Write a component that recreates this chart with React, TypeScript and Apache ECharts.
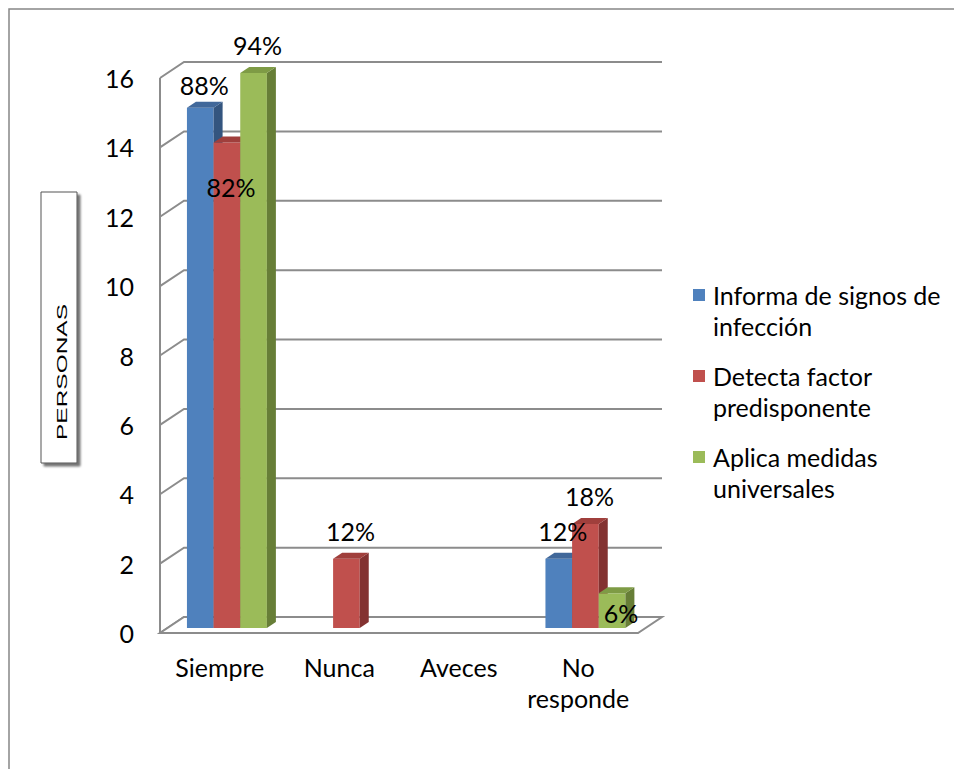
import React, { useEffect, useRef } from "react";
import * as echarts from "echarts";

const categories = ["Siempre", "Nunca", "Aveces", "No responde"];
const seriesNames = [
  "Informa de signos de infección",
  "Detecta factor predisponente",
  "Aplica medidas universales",
];
const seriesInforma = [15, 0, 0, 2];
const seriesDetecta = [14, 2, 0, 3];
const seriesAplica = [16, 0, 0, 1];
const labelsInforma = ["88%", "", "", "12%"];
const labelsDetecta = ["82%", "12%", "", "18%"];
const labelsAplica = ["94%", "", "", "6%"];
const yMin = 0;
const yMax = 16;
const yInterval = 2;
const axisTitle = "PERSONAS";

const FONT = "Lato, 'Liberation Sans Narrow', sans-serif";
const FS = 25;
const GRID = "#8c8c8c";
const COLORS = [
  { front: "#4f81bd", side: "#34557f", top: "#41689a" },
  { front: "#c0504d", side: "#833231", top: "#a03f3c" },
  { front: "#9bbb59", side: "#677e37", top: "#7e9b45" },
];
// wall depth (front plane -> back plane)
const WDX = 24;
const WDY = 16;
// bar depth and inset
const BDX = 9;
const BDY = 6;
const INSET_Y = 5;

const labelOffsets: Record<string, [number, number]> = {
  "0-0": [4, -23],
  "1-0": [4, 45],
  "2-3": [9, 20],
};

function barGeom(api: any, c: number, v: number, si: number) {
  const catW = api.size([1, 0])[0];
  const p0 = api.coord([c, 0]);
  const p1 = api.coord([c, v]);
  const bw = catW * 0.223;
  const cx = p0[0] + catW * 0.06;
  const L = cx - 1.5 * bw + si * bw;
  const R = L + bw;
  const B = p0[1] - INSET_Y;
  const T = p1[1] - INSET_Y;
  return { L, R, B, T };
}

export default function App() {
  const ref = useRef<HTMLDivElement>(null);
  useEffect(() => {
    document.body.style.margin = "0";
    if (!ref.current) return;
    const chart = echarts.init(ref.current, null, { renderer: "svg" });
    const seriesValues = [seriesInforma, seriesDetecta, seriesAplica];
    const seriesLabels = [labelsInforma, labelsDetecta, labelsAplica];

    const ticks: number[] = [];
    for (let v = yMin; v <= yMax; v += yInterval) ticks.push(v);

    const wallSeries = {
      type: "custom",
      silent: true,
      data: [[0, 0]],
      z: 1,
      renderItem: (params: any, api: any) => {
        const cs = params.coordSys;
        const x0 = cs.x;
        const x1 = cs.x + cs.width;
        const children: any[] = [];
        const ls = { stroke: GRID, lineWidth: 2 };
        ticks.forEach((v) => {
          const y = api.coord([0, v])[1];
          children.push({
            type: "polyline",
            shape: { points: [[x0, y], [x0 + WDX, y - WDY], [x1 + WDX, y - WDY]] },
            style: { ...ls, fill: null },
          });
        });
        const yb = api.coord([0, yMin])[1];
        const yt = api.coord([0, yMax])[1];
        children.push({
          type: "line",
          shape: { x1: x0, y1: yt, x2: x0, y2: yb },
          style: ls,
        });
        children.push({
          type: "polygon",
          shape: { points: [[x0, yb], [x1, yb], [x1 + WDX, yb - WDY], [x0 + WDX, yb - WDY]] },
          style: { ...ls, fill: "#ffffff" },
        });
        return { type: "group", children };
      },
    };

    const barSeries = seriesValues.map((vals, si) => ({
      type: "custom",
      name: seriesNames[si],
      silent: true,
      z: 2,
      itemStyle: { color: COLORS[si].front },
      data: vals.map((v, c) => [c, v]),
      encode: { x: 0, y: 1 },
      renderItem: (params: any, api: any) => {
        const c = api.value(0);
        const v = api.value(1);
        if (!v) return null;
        const { L, R, B, T } = barGeom(api, c, v, si);
        const col = COLORS[si];
        return {
          type: "group",
          children: [
            {
              type: "polygon",
              shape: { points: [[L, B], [R, B], [R, T], [L, T]] },
              style: { fill: col.front },
            },
            {
              type: "polygon",
              shape: { points: [[R, B], [R + BDX, B - BDY], [R + BDX, T - BDY], [R, T]] },
              style: { fill: col.side },
            },
            {
              type: "polygon",
              shape: { points: [[L, T], [R, T], [R + BDX, T - BDY], [L + BDX, T - BDY]] },
              style: { fill: col.top },
            },
          ],
        };
      },
    }));

    const labelData: any[] = [];
    seriesValues.forEach((vals, si) =>
      vals.forEach((v, c) => {
        if (seriesLabels[si][c]) labelData.push([c, v, si]);
      })
    );

    const labelSeries = {
      type: "custom",
      silent: true,
      z: 5,
      data: labelData,
      encode: { x: 0, y: 1 },
      renderItem: (params: any, api: any) => {
        const c = api.value(0);
        const v = api.value(1);
        const si = api.value(2);
        const { L, R, T } = barGeom(api, c, v, si);
        const off = labelOffsets[`${si}-${c}`] || [4, -28];
        return {
          type: "text",
          x: (L + R) / 2 + off[0],
          y: T + off[1],
          style: {
            text: seriesLabels[si][c],
            fill: "#000",
            font: `${FS}px ${FONT}`,
            align: "center",
            verticalAlign: "middle",
          },
        };
      },
    };

    const legendItems: any[] = [];
    const legendTops = [295, 376, 457];
    seriesNames.forEach((n, i) => {
      legendItems.push({
        type: "rect",
        shape: { x: 693, y: legendTops[i] - 6, width: 12, height: 12 },
        style: { fill: COLORS[i].front },
      });
      legendItems.push({
        type: "text",
        x: 713,
        y: legendTops[i] - 15.5,
        style: {
          text: n,
          width: 236,
          overflow: "break",
          font: `${FS}px ${FONT}`,
          lineHeight: 31,
          fill: "#000",
          align: "left",
          verticalAlign: "top",
        },
      });
    });

    chart.setOption({
      animation: false,
      grid: { left: 160, top: 78, width: 478, height: 555 },
      xAxis: {
        type: "category",
        data: categories,
        axisLine: { show: false },
        axisTick: { show: false },
        axisLabel: {
          color: "#000",
          fontSize: FS,
          fontFamily: FONT,
          lineHeight: 31,
          margin: 18,
          interval: 0,
          formatter: (s: string) => s.replace(" ", "\n"),
        },
      },
      yAxis: {
        type: "value",
        min: yMin,
        max: yMax,
        interval: yInterval,
        axisLine: { show: false },
        axisTick: { show: false },
        splitLine: { show: false },
        axisLabel: { color: "#000", fontSize: FS, fontFamily: FONT, margin: 26 },
      },
      graphic: [
        {
          type: "rect",
          shape: { x: 9, y: 9, width: 1200, height: 1200 },
          style: { fill: null, stroke: "#878787", lineWidth: 1.5 },
          silent: true,
          z: -10,
        },
        {
          type: "rect",
          shape: { x: 41, y: 192, width: 36, height: 271 },
          style: {
            fill: "#ffffff",
            stroke: "#555555",
            lineWidth: 1,
            shadowColor: "rgba(0,0,0,0.55)",
            shadowBlur: 2,
            shadowOffsetX: 3,
            shadowOffsetY: 3,
          },
          silent: true,
        },
        {
          type: "text",
          x: 62,
          y: 372,
          rotation: Math.PI / 2,
          scaleX: 1.75,
          style: {
            text: axisTitle,
            font: "14px 'Liberation Sans', Arial, sans-serif",
            fill: "#000",
            align: "center",
            verticalAlign: "middle",
          },
          silent: true,
        },
        ...legendItems,
      ],
      series: [wallSeries, ...barSeries, labelSeries],
    });
    return () => chart.dispose();
  }, []);
  return <div ref={ref} style={{ width: 954, height: 769 }} />;
}
